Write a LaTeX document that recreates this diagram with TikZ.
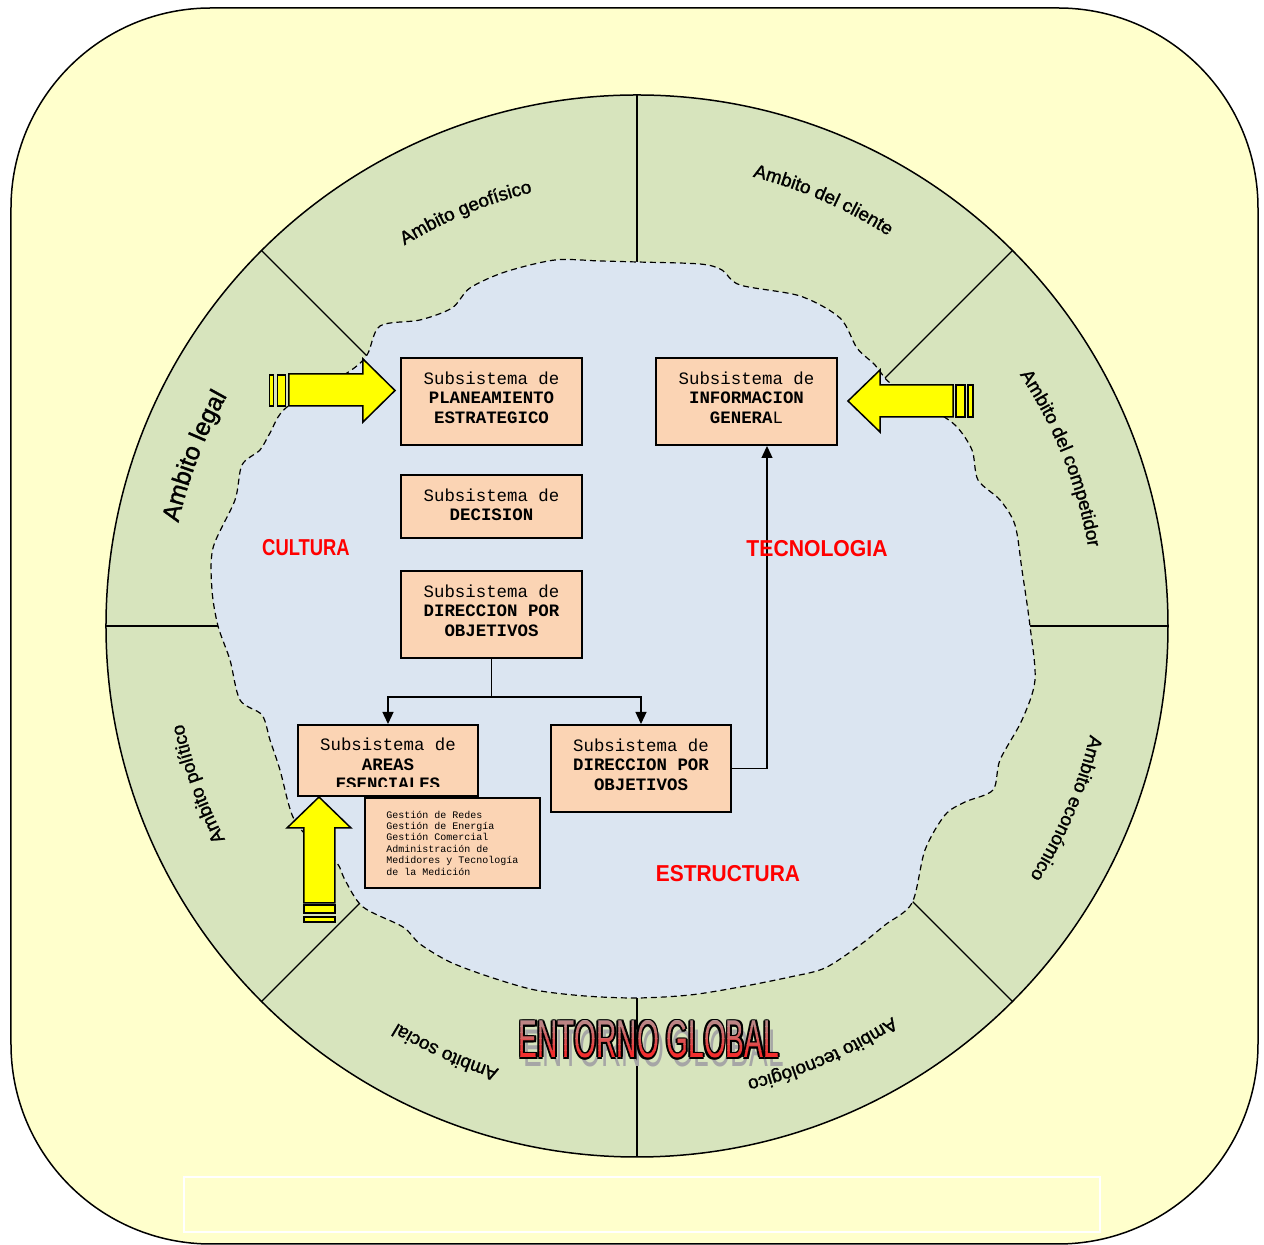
\documentclass[tikz,border=0pt]{standalone}
\usepackage{fontspec}
\setmainfont{Liberation Sans}
\setmonofont{Liberation Mono}
\newfontfamily\ringfam[FakeBold=1.3]{Liberation Sans}
\usetikzlibrary{calc, arrows.meta, decorations.text}
\definecolor{fondo}{RGB}{255, 255, 204}
\definecolor{anillo}{RGB}{215, 228, 189}
\definecolor{nucleo}{RGB}{219, 229, 241}
\definecolor{caja}{RGB}{251, 212, 180}
\definecolor{amarillo}{RGB}{255, 255, 0}
\definecolor{rojotexto}{RGB}{255, 0, 0}
\definecolor{rosagris}{RGB}{178, 150, 150}
\definecolor{rojovivo}{RGB}{252, 30, 30}
\newcommand{\ringfont}{\ringfam\fontsize{9.4}{11}\selectfont}
\newcommand{\entornotxt}{\scalebox{0.53}[1]{ENTORNO GLOBAL}}

\begin{document}
\begin{tikzpicture}[x=0.5pt, y=0.5pt,
  subsis/.style={draw, line width=1pt, fill=caja, minimum width=90.5pt, minimum height=43.5pt,
    inner sep=0pt, text depth=4pt, align=center, font=\ttfamily\fontsize{8.7}{9.75}\selectfont},
  etiqueta/.style={text=rojotexto, font=\bfseries\fontsize{11.5}{13}\selectfont},
  conector/.style={line width=0.65pt, -{Triangle[length=6pt, width=5.5pt]}},
  flechagorda/.style={draw=black, fill=amarillo, line width=0.75pt},
  entorno/.style={inner sep=0pt, anchor=base, font=\fontsize{26.5}{30}\selectfont}]
  \useasboundingbox (-637, -619) rectangle (627, 626);

  % fondo y anillo
  \draw[fill=fondo, line width=0.75pt, rounded corners=100pt] (-626, -618) rectangle (621, 618);
  \draw[white, line width=0.6pt] (-453, -551) rectangle (463, -606);
  \fill[anillo] (0, 0) circle (531);
  \foreach \a in {0, 45, ..., 315}
    \draw[line width=0.6pt] (0, 0) -- (\a:531);
  \draw[line width=0.75pt] (0, 0) circle (531);

  % nucleo
  \draw[fill=nucleo, line width=0.6pt, dash pattern=on 3pt off 2pt]
    plot[smooth cycle, tension=0.5] coordinates {
      (-82, 366) (-37, 365) (0, 364) (63, 362) (85, 356) (103, 341) (163, 330)
      (203, 308) (220, 278) (238, 261) (253, 243) (288, 221) (318, 201) (335, 176)
      (341, 146) (363, 126) (378, 101) (385, 56) (393, 0) (398, -54) (385, -94)
      (363, -134) (356, -164) (328, -176) (308, -189) (288, -224) (275, -277)
      (248, -299) (223, -319) (188, -342) (153, -351) (103, -361) (53, -369)
      (0, -372) (-52, -370) (-102, -364) (-147, -351) (-187, -336) (-217, -318)
      (-234, -301) (-274, -281) (-292, -254) (-300, -237) (-322, -219) (-344, -191)
      (-357, -144) (-367, -114) (-375, -89) (-397, -74) (-407, -34) (-419, 0)
      (-425, 36) (-424, 78) (-402, 126) (-395, 161) (-377, 176) (-367, 193)
      (-350, 219) (-290, 253) (-270, 271) (-257, 300) (-217, 306) (-185, 318)
      (-167, 338) (-132, 354)};

  % ambitos
  \path[decorate, decoration={text along path, text align=center, text={|\ringfont|Ambito geofísico}}]
    (137.5:446) arc[start angle=137.5, end angle=87.5, radius=446];
  \path[decorate, decoration={text along path, text align=center, text={|\ringfont|Ambito del cliente}}]
    (91.4:464) arc[start angle=91.4, end angle=41.4, radius=464];
  \path[decorate, decoration={text along path, text align=center, text={|\ringfont|Ambito del competidor}}]
    (51.6:458) arc[start angle=51.6, end angle=-8.4, radius=458];
  \path[decorate, decoration={text along path, text align=center, text={|\ringfont|Ambito económico}}]
    (2:466) arc[start angle=2, end angle=-48, radius=466];
  \path[decorate, decoration={text along path, text align=center, text={|\ringfont|Ambito tecnológico}}]
    (-41.6:467) arc[start angle=-41.6, end angle=-91.6, radius=467];
  \path[decorate, decoration={text along path, text align=center, text={|\ringfont|Ambito social}}]
    (-89.2:464) arc[start angle=-89.2, end angle=-139.2, radius=464];
  \path[decorate, decoration={text along path, text align=center, text={|\ringfont|Ambito político}}]
    (224.8:464) arc[start angle=224.8, end angle=174.8, radius=464];
  \path[decorate, decoration={text along path, text align=center, text={|\ringfam\fontsize{12.4}{14}\selectfont|Ambito legal}}]
    (184:470) arc[start angle=184, end angle=134, radius=470];

  % subsistemas
  \node[subsis] (plan) at (-145.5, 224.5) {Subsistema de\\\textbf{PLANEAMIENTO}\\\textbf{ESTRATEGICO}};
  \node[subsis] (info) at (109.5, 224.5) {Subsistema de\\\textbf{INFORMACION}\\\textbf{GENERA}L};
  \node[subsis, minimum height=31.5pt, text depth=2pt] (decision) at (-145.5, 119.5) {Subsistema de\\\textbf{DECISION}};
  \node[subsis] (dir1) at (-145.5, 11.5) {Subsistema de\\\textbf{DIRECCION POR}\\\textbf{OBJETIVOS}};
  \node[subsis, minimum width=90pt] (dir2) at (4, -142.5) {Subsistema de\\\textbf{DIRECCION POR}\\\textbf{OBJETIVOS}};
  \node[subsis, minimum width=90pt, minimum height=35.5pt] (areas) at (-249, -134.5) {};
  \begin{scope}
    \clip (areas.north west) rectangle ($(areas.south east) + (0, 10)$);
    \node[subsis, draw=none, fill=none, text depth=0pt] (areastxt) at (-249, -138) {Subsistema de\\\textbf{AREAS}\\\textbf{ESENCIALES}};
  \end{scope}
  \node[subsis, minimum width=87.5pt, minimum height=45pt, align=left, text depth=0pt,
    font=\ttfamily\fontsize{5}{5.7}\selectfont] (gestion) at (-184.5, -217)
    {Gestión de Redes\\Gestión de Energía\\Gestión Comercial\\Administración de\\Medidores y Tecnología\\de la Medición};

  % conectores
  \draw[conector] (dir1.south) -- ++(0, -38) -| (areas.north);
  \draw[conector] (dir1.south) -- ++(0, -38) -| (dir2.north);
  \draw[conector] (dir2.east) -| ($(info.south) + (20.5, 0)$);

  % flechas amarillas
  \draw[flechagorda] (-367.7, 220) rectangle (-363.7, 251);
  \draw[flechagorda] (-359.7, 220) rectangle (-351.3, 251);
  \draw[flechagorda] (-348, 252) -- (-274, 252) -- (-274, 267) -- (-242, 235.5)
    -- (-274, 204) -- (-274, 220) -- (-348, 220) -- cycle;

  \draw[flechagorda] (319, 209) rectangle (328, 241);
  \draw[flechagorda] (331, 209) rectangle (336, 241);
  \draw[flechagorda] (316, 241) -- (243, 241) -- (243, 256) -- (211, 225)
    -- (243, 194) -- (243, 209) -- (316, 209) -- cycle;

  \draw[flechagorda] (-333, -279) rectangle (-302, -287);
  \draw[flechagorda] (-333, -291) rectangle (-302, -296);
  \draw[flechagorda] (-333, -277) -- (-333, -202) -- (-350, -202) -- (-318, -171)
    -- (-286, -202) -- (-302, -202) -- (-302, -277) -- cycle;

  % etiquetas
  \node[etiqueta] (cultura) at (-331, 78) {\scalebox{0.8}[1]{CULTURA}};
  \node[etiqueta] (tecno) at (180, 77) {\scalebox{0.92}[1]{TECNOLOGIA}};
  \node[etiqueta] (estruc) at (91, -248) {\scalebox{0.91}[1]{ESTRUCTURA}};

  % entorno global
  \node[entorno, text=black!35] (sombra) at (17, -441) {\entornotxt};
  \foreach \dx/\dy [count=\i] in {1.8/0, -1.8/0, 0/1.8, 0/-1.8, 1.3/1.3, -1.3/1.3, 1.3/-1.3, -1.3/-1.3}
    \node[entorno, text=black] (borde\i) at (12 + \dx, -432 + \dy) {\entornotxt};
  \foreach \i in {0, ..., 7} {
    \pgfmathtruncatemacro{\mezcla}{\i * 100 / 7}
    \begin{scope}
      \clip (-140, -437 + \i * 6) rectangle (160, -431 + \i * 6);
      \node[entorno, text=rosagris!\mezcla!rojovivo] (relleno\i) at (12, -432) {\entornotxt};
    \end{scope}
  }
\end{tikzpicture}
\end{document}
